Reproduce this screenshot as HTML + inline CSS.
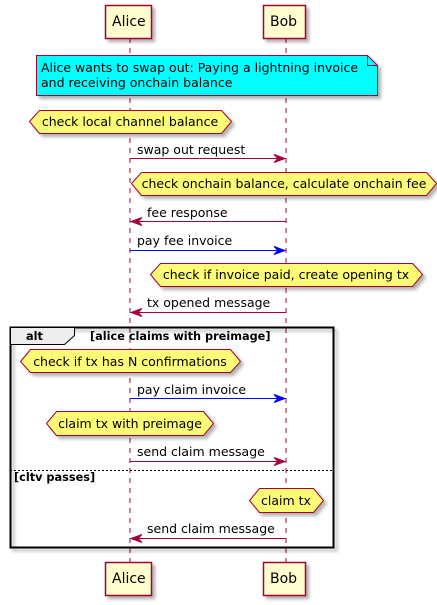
<!DOCTYPE html>
<html><head><meta charset="utf-8"><style>
html,body{margin:0;padding:0;background:#fff;}
svg{display:block;}
text{font-family:"DejaVu Sans","Liberation Sans",sans-serif;font-size:12.5px;fill:#000;}
.b{font-weight:bold;font-size:11.3px;}
</style></head><body>
<svg width="437" height="605" viewBox="0 0 437 605" xmlns="http://www.w3.org/2000/svg">
<defs>
<filter id="sh" x="-10%" y="-10%" width="130%" height="150%"><feDropShadow dx="3" dy="3" stdDeviation="1.5" flood-color="#000" flood-opacity="0.3"/></filter>
</defs>
<line x1="130" y1="38" x2="130" y2="562" stroke="#A80036" stroke-dasharray="5,5"/>
<line x1="286" y1="38" x2="286" y2="562" stroke="#A80036" stroke-dasharray="5,5"/>
<g filter="url(#sh)" fill="#FEFECE" stroke="#A80036" stroke-width="1.5">
<rect x="105.5" y="5.5" width="46" height="33"/>
<rect x="263.5" y="5.5" width="42" height="33"/>
<rect x="105.5" y="562.5" width="46" height="33"/>
<rect x="263.5" y="562.5" width="42" height="33"/>
</g>
<text x="112" y="26" style="font-size:14px">Alice</text>
<text x="270" y="26" style="font-size:14px">Bob</text>
<text x="112" y="583" style="font-size:14px">Alice</text>
<text x="270" y="583" style="font-size:14px">Bob</text>
<path d="M36.5,55.5 H367.5 L377.5,65.5 V95.5 H36.5 Z" fill="#00FFFF" stroke="#A80036" filter="url(#sh)"/>
<path d="M367.5,55.5 V65.5 H377.5" fill="none" stroke="#A80036"/>
<text x="41" y="72">Alice wants to swap out: Paying a lightning invoice</text>
<text x="41" y="87">and receiving onchain balance</text>
<g fill="#FBFB77" stroke="#A80036" filter="url(#sh)">
<path d="M29.5,121.5 L39.5,110.5 H221.5 L231.5,121.5 L221.5,133.5 H39.5 Z"/>
<path d="M131.5,183.5 L141.5,172.5 H426.5 L436.5,183.5 L426.5,195.5 H141.5 Z"/>
<path d="M150.5,274.5 L160.5,263.5 H412.5 L422.5,274.5 L412.5,286.5 H160.5 Z"/>
<path d="M20.5,361.5 L30.5,349.5 H230.5 L240.5,361.5 L230.5,372.5 H30.5 Z"/>
<path d="M46.5,423.5 L56.5,411.5 H203.5 L213.5,423.5 L203.5,435.5 H56.5 Z"/>
<path d="M249.5,500.5 L259.5,488.5 H313.5 L323.5,500.5 L313.5,512.5 H259.5 Z"/>
</g>
<text x="130" y="126" text-anchor="middle">check local channel balance</text>
<text x="284" y="188" text-anchor="middle">check onchain balance, calculate onchain fee</text>
<text x="286" y="279" text-anchor="middle">check if invoice paid, create opening tx</text>
<text x="130" y="366" text-anchor="middle">check if tx has N confirmations</text>
<text x="130" y="428" text-anchor="middle">claim tx with preimage</text>
<text x="286" y="505" text-anchor="middle">claim tx</text>
<rect x="10.5" y="327.5" width="323" height="220" fill="none" stroke="#000" stroke-width="2" filter="url(#sh)"/>
<path d="M10.5,327.5 H74.5 V335.5 L64.5,344.5 H10.5 Z" fill="#EEEEEE" stroke="#000"/>
<text x="26" y="340" class="b">alt</text>
<text x="90" y="340" class="b">[alice claims with preimage]</text>
<line x1="10" y1="470.5" x2="333" y2="470.5" stroke="#000" stroke-dasharray="2,2"/>
<text x="14" y="481" class="b">[cltv passes]</text>
<g stroke-width="1">
<line x1="130" y1="158.5" x2="284" y2="158.5" stroke="#A80036"/>
<path d="M274,154.5 L285,158.5 L274,162.5 L278,158.5 Z" fill="#A80036" stroke="#A80036"/>
<line x1="132" y1="221.5" x2="286" y2="221.5" stroke="#A80036"/>
<path d="M142,217.5 L131,221.5 L142,225.5 L138,221.5 Z" fill="#A80036" stroke="#A80036"/>
<line x1="130" y1="250.5" x2="284" y2="250.5" stroke="#0000FF"/>
<path d="M274,246.5 L285,250.5 L274,254.5 L278,250.5 Z" fill="#0000FF" stroke="#0000FF"/>
<line x1="132" y1="312.5" x2="286" y2="312.5" stroke="#A80036"/>
<path d="M142,308.5 L131,312.5 L142,316.5 L138,312.5 Z" fill="#A80036" stroke="#A80036"/>
<line x1="130" y1="398.5" x2="284" y2="398.5" stroke="#0000FF"/>
<path d="M274,394.5 L285,398.5 L274,402.5 L278,398.5 Z" fill="#0000FF" stroke="#0000FF"/>
<line x1="130" y1="461.5" x2="284" y2="461.5" stroke="#A80036"/>
<path d="M274,457.5 L285,461.5 L274,465.5 L278,461.5 Z" fill="#A80036" stroke="#A80036"/>
<line x1="132" y1="538.5" x2="286" y2="538.5" stroke="#A80036"/>
<path d="M142,534.5 L131,538.5 L142,542.5 L138,538.5 Z" fill="#A80036" stroke="#A80036"/>
</g>
<text x="137" y="154">swap out request</text>
<text x="147" y="217">fee response</text>
<text x="137" y="245">pay fee invoice</text>
<text x="147" y="307">tx opened message</text>
<text x="137" y="394">pay claim invoice</text>
<text x="137" y="456">send claim message</text>
<text x="147" y="533">send claim message</text>
</svg>
</body></html>
